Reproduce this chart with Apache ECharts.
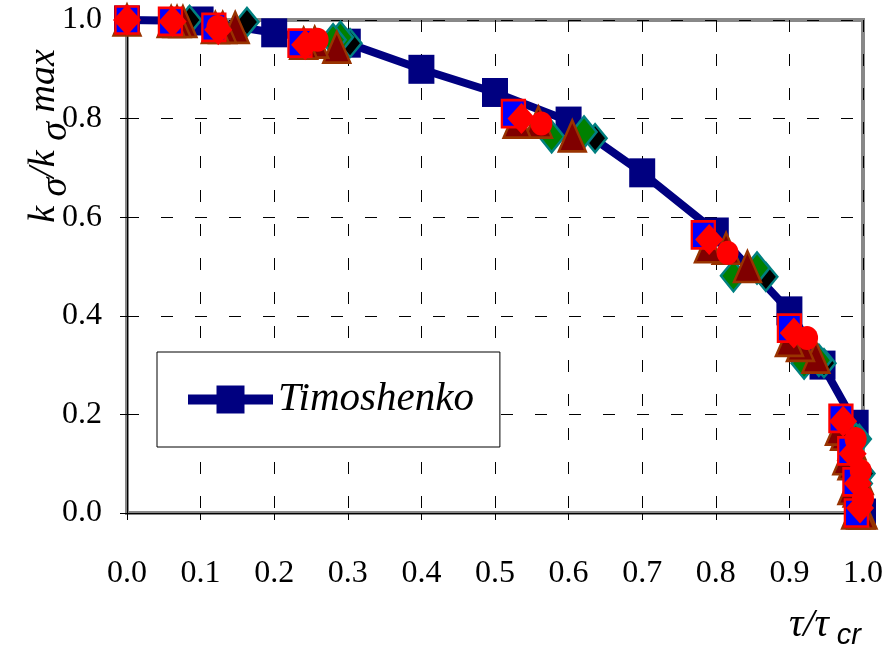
<!DOCTYPE html>
<html><head><meta charset="utf-8">
<script src="https://cdn.jsdelivr.net/npm/echarts@6/dist/echarts.min.js"></script>
<style>html,body{margin:0;padding:0;background:#fff}#c{width:886px;height:650px}</style>
</head><body><div id="c"></div>
<script>
// ---- data ----
const xTickValues = [0.0,0.1,0.2,0.3,0.4,0.5,0.6,0.7,0.8,0.9,1.0];
const yTickValues = [0.0,0.2,0.4,0.6,0.8,1.0];

const timX = [0, 0.1, 0.2, 0.3, 0.4, 0.5, 0.6, 0.7, 0.8, 0.9, 0.945, 0.99, 1.0];
const timY = [1.0, 0.998, 0.974, 0.953, 0.9, 0.853, 0.795, 0.69, 0.57, 0.41, 0.30, 0.18, 0.0];

const sqX = [0, 0.059, 0.118, 0.235, 0.525, 0.783, 0.90, 0.97, 0.982, 0.989, 0.991];
const sqY = [1.0, 0.997, 0.985, 0.953, 0.81, 0.564, 0.375, 0.192, 0.126, 0.063, 0.0];

const rdX = [0, 0.062, 0.124, 0.242, 0.536, 0.791, 0.906, 0.973, 0.986, 0.993, 0.996];
const rdY = [1.0, 0.997, 0.98, 0.95, 0.80, 0.555, 0.365, 0.186, 0.12, 0.06, 0.01];

const rcX = [0.123, 0.259, 0.563, 0.816, 0.924, 0.99, 0.997, 1.0];
const rcY = [0.986, 0.96, 0.79, 0.528, 0.355, 0.15, 0.085, 0.03];

const t1X = [0, 0.06, 0.12, 0.24, 0.53, 0.79, 0.90, 0.968, 0.978, 0.985, 0.99];
const t1Y = [1.0, 0.997, 0.985, 0.953, 0.793, 0.54, 0.35, 0.17, 0.11, 0.05, 0.0];
const t2X = [0.068, 0.13, 0.255, 0.559, 0.814, 0.915, 0.975, 0.985, 0.992, 0.997];
const t2Y = [0.997, 0.985, 0.955, 0.793, 0.537, 0.34, 0.16, 0.10, 0.045, 0.0];
const t3X = [0.076, 0.147, 0.285, 0.605, 0.843, 0.936, 0.985, 0.995, 1.0];
const t3Y = [0.997, 0.985, 0.945, 0.765, 0.50, 0.316, 0.14, 0.07, 0.0];

const g1X = [0.28, 0.577, 0.824, 0.92, 0.99];
const g1Y = [0.96, 0.763, 0.481, 0.304, 0.15];
const g2X = [0.29, 0.621, 0.856, 0.94, 0.995];
const g2Y = [0.965, 0.773, 0.497, 0.31, 0.06];

const bkX = [0.085, 0.163, 0.303, 0.636, 0.868, 0.947, 0.995, 1.0];
const bkY = [1.0, 0.996, 0.953, 0.76, 0.479, 0.304, 0.15, 0.08];

// ---- chart ----
function pts(xs, ys){ return xs.map((x,i)=>[x, ys[i]]); }
const SERIF = 'Liberation Serif';

let zc = 3;
function scat(name, xs, ys, symbol, size, fill, border, bw){
  return {name, type:'scatter', z:zc++, data:pts(xs,ys), symbol, symbolSize:size, clip:false,
    itemStyle:{color:fill, borderColor:border, borderWidth:bw, opacity:1}, emphasis:{disabled:true}};
}
const triangles = (n,xs,ys)=>scat(n,xs,ys,'triangle',[27,31],'#800000','#993300',2.5);

const chart = echarts.init(document.getElementById('c'), null, {renderer:'canvas'});
chart.setOption({
  animation:false,
  backgroundColor:'#fff',
  grid:{left:127, right:22, top:20, bottom:137, show:true, borderColor:'#888888', borderWidth:4, backgroundColor:'transparent'},
  xAxis:{type:'value', min:0, max:1, interval:0.1,
    axisLine:{show:true, onZero:false, lineStyle:{color:'#000', width:1}},
    axisTick:{show:true, length:7, lineStyle:{color:'#000'}},
    axisLabel:{margin:45, color:'#000', fontFamily:SERIF, fontSize:32, formatter:v=>v.toFixed(1)},
    splitLine:{show:true, lineStyle:{color:'#000', width:1, type:[12,22]}}},
  yAxis:{type:'value', min:0, max:1, interval:0.2,
    axisLine:{show:true, onZero:false, lineStyle:{color:'#000', width:1}},
    axisTick:{show:true, length:7, lineStyle:{color:'#000'}},
    axisLabel:{margin:25, color:'#000', fontFamily:SERIF, fontSize:32, formatter:v=>v.toFixed(1)},
    splitLine:{show:true, lineStyle:{color:'#000', width:1, type:[12,22]}}},
  legend:{data:['Timoshenko'], left:157, top:352, orient:'horizontal', selectedMode:false, z:20,
    backgroundColor:'#fff', borderColor:'#000', borderWidth:1, borderRadius:0,
    padding:[27,26,27,26], itemWidth:85, itemHeight:35,
    lineStyle:{width:10, color:'#000080'},
    textStyle:{fontFamily:SERIF, fontStyle:'italic', fontSize:41, color:'#000'}},
  graphic:[
    {type:'text', x:44, y:136, rotation:Math.PI/2, z:10,
      style:{text:'{a|k }{s|σ}{a|/k }{s|σ}{a| max}', align:'center', verticalAlign:'middle',
        rich:{a:{fontFamily:SERIF, fontStyle:'italic', fontSize:38, lineHeight:62, fill:'#000', color:'#000'},
              s:{fontFamily:SERIF, fontStyle:'italic', fontSize:38, lineHeight:40, verticalAlign:'bottom', fill:'#000', color:'#000'}}}},
    {type:'text', x:789, y:625, z:10,
      style:{text:'{t|τ/τ}{c| cr}', align:'left', verticalAlign:'middle',
        rich:{t:{fontFamily:SERIF, fontStyle:'italic', fontSize:40, lineHeight:50, fill:'#000', color:'#000'},
              c:{fontFamily:'Liberation Sans', fontStyle:'italic', fontSize:29, lineHeight:30, verticalAlign:'bottom', fill:'#000', color:'#000'}}}}
  ],
  series:[
    {name:'Timoshenko', type:'line', z:1, data:pts(timX,timY), symbol:'rect', symbolSize:[26,29], showAllSymbol:true, clip:false,
      lineStyle:{color:'#000080', width:8}, itemStyle:{color:'#000080'}, emphasis:{disabled:true}},
    scat('Black', bkX, bkY, 'diamond', [23,28], '#000000', '#008080', 2.5),
    scat('Green 2', g2X, g2Y, 'diamond', [25,31], '#008000', '#008080', 2.5),
    scat('Green 1', g1X, g1Y, 'diamond', [25,31], '#008000', '#008080', 2.5),
    triangles('Tri 3', t3X, t3Y),
    triangles('Tri 2', t2X, t2Y),
    triangles('Tri 1', t1X, t1Y),
    scat('Squares', sqX, sqY, 'rect', [23,27], '#0000FF', '#FF0000', 2.5),
    scat('Red diamonds', rdX, rdY, 'diamond', [28,31], '#FF0000', '#FF0000', 0),
    scat('Red circles', rcX, rcY, 'circle', [22,24], '#FF0000', '#FF0000', 0)
  ]
});
</script></body></html>
